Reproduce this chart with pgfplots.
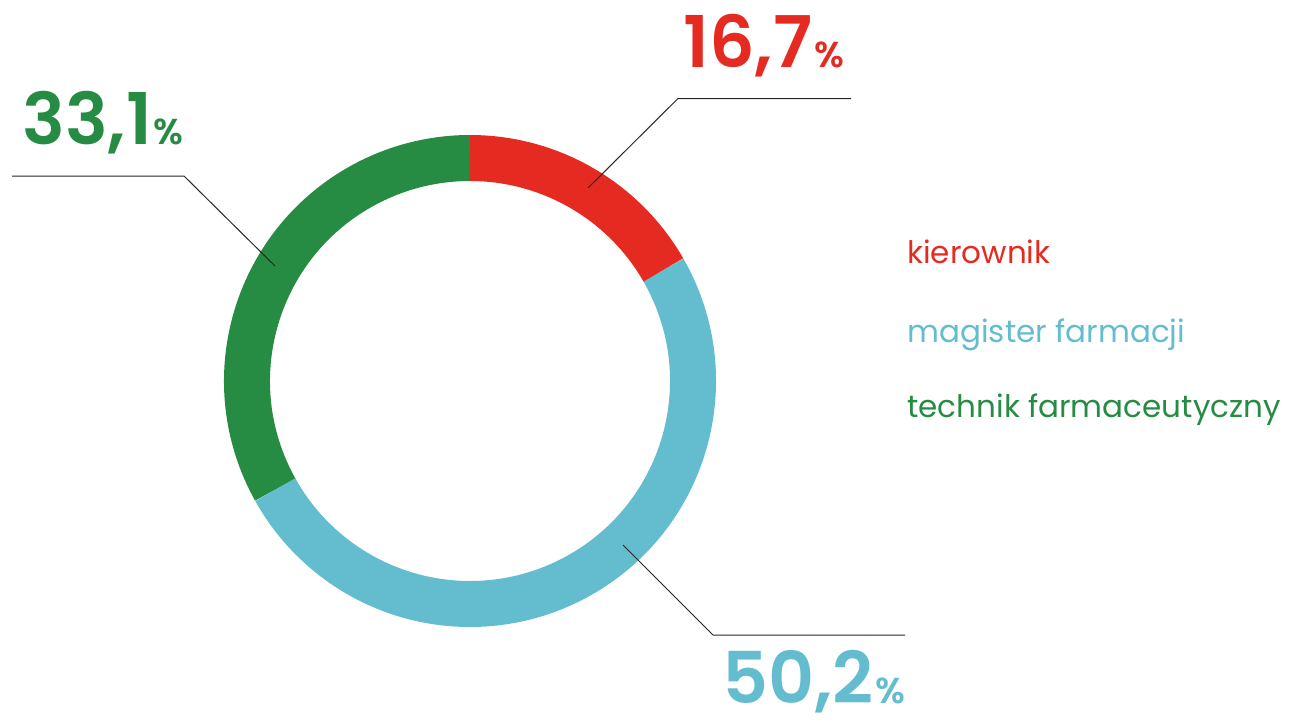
\documentclass[border=0pt]{standalone}
\usepackage{pgfplots}
\pgfplotsset{compat=1.18}
\usepackage{fontspec}
\setmainfont{Poppins}
\newfontfamily\numfont{Poppins SemiBold}
\definecolor{cred}{HTML}{E52B21}
\definecolor{cblue}{HTML}{63BDCF}
\definecolor{cgreen}{HTML}{268B43}
% data (percent)
\def\vA{16.7}
\def\vB{50.2}
\def\vC{33.1}
\begin{document}
\begin{tikzpicture}
\begin{axis}[
  width=645.5pt, height=360pt, scale only axis, hide axis,
  xmin=0, xmax=1291, ymin=0, ymax=720, clip=false]
\path (axis cs:0,0) rectangle (axis cs:1291,720);
\pgfmathsetmacro{\aA}{90}
\pgfmathsetmacro{\aB}{90-3.6*\vA}
\pgfmathsetmacro{\aC}{\aB-3.6*\vB}
\pgfmathsetmacro{\aD}{\aC-3.6*\vC}
\draw[cgreen, line width=23pt] (axis cs:470,339) ++(\aC:223) arc[start angle=\aC, end angle=\aD, radius=223];
\draw[cblue, line width=23pt] (axis cs:470,339) ++(\aB:223) arc[start angle=\aB, end angle=\aC, radius=223];
\draw[cred, line width=23pt] (axis cs:470,339) ++(\aA:223) arc[start angle=\aA, end angle=\aB, radius=223];
% leader lines
\draw[black!85, line width=0.5pt] (axis cs:588,532) -- (axis cs:678,621.5) -- (axis cs:851,621.5);
\draw[black!85, line width=0.5pt] (axis cs:275,454) -- (axis cs:184,544) -- (axis cs:12,544);
\draw[black!85, line width=0.5pt] (axis cs:623,175) -- (axis cs:713,85) -- (axis cs:905,85);
% value labels
\node[anchor=base west, inner sep=0, text=cred] at (axis cs:683,653) {\numfont\fontsize{35.7}{40}\selectfont 16,7{\fontsize{18}{20}\selectfont\kern1pt\%}};
\node[anchor=base west, inner sep=0, text=cgreen] at (axis cs:22,576) {\numfont\fontsize{35.7}{40}\selectfont 33,1{\fontsize{18}{20}\selectfont\kern1pt\%}};
\node[anchor=base west, inner sep=0, text=cblue] at (axis cs:722,17) {\numfont\fontsize{35.7}{40}\selectfont 50,2{\fontsize{18}{20}\selectfont\kern1pt\%}};
% legend
\node[anchor=base west, inner sep=0, text=cred] at (axis cs:907,457) {\fontsize{15.5}{18}\selectfont kierownik};
\node[anchor=base west, inner sep=0, text=cblue] at (axis cs:907,378) {\fontsize{15.5}{18}\selectfont magister farmacji};
\node[anchor=base west, inner sep=0, text=cgreen] at (axis cs:907,303) {\fontsize{15.5}{18}\selectfont technik farmaceutyczny};
\end{axis}
\end{tikzpicture}
\end{document}
